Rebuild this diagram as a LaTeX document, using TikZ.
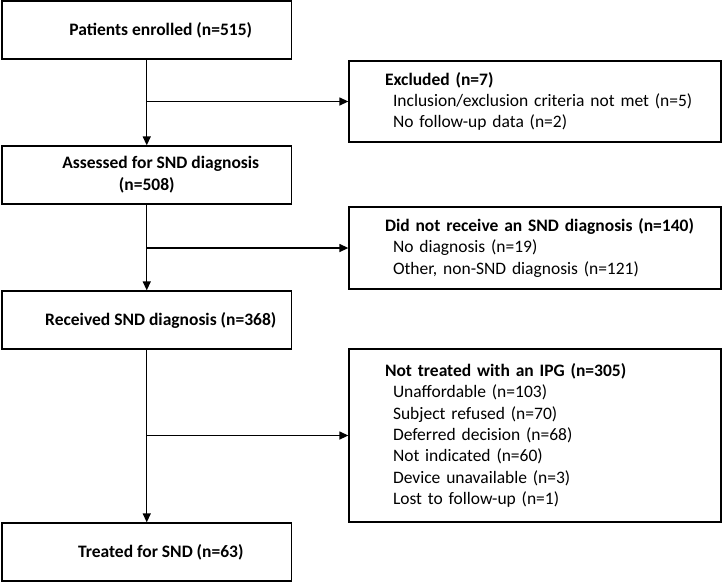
\documentclass[tikz,border=0pt]{standalone}
\usepackage{fontspec}
\setmainfont{Carlito}
\usepackage{tikz}
\usetikzlibrary{arrows.meta}
\tikzset{box/.style={draw,minimum width=289.5pt,minimum height=58pt,inner sep=0pt},
boxtext/.style={xshift=14pt,align=center,font=\fontsize{17.5}{22}\selectfont\bfseries},
sidebox/.style={draw,text width=332pt,inner xsep=20pt,minimum height=#1,align=left,font=\fontsize{17.5}{21.3}\selectfont}}
\newcommand{\sidetitle}[1]{\hspace*{16pt}\textbf{#1}}
\newcommand{\subline}{\\\hspace*{24pt}}

\begin{document}
\begin{tikzpicture}[x=1pt,y=-1pt,line width=1.3pt,>={Triangle[length=9pt,width=8pt]}]
\useasboundingbox (0,0) rectangle (722,582);

\node[box,label={[boxtext]center:{Patients enrolled (n=515)}}] (enrol) at (146.75,30) {};
\node[box,label={[boxtext]center:{Assessed for SND diagnosis\\(n=508)\hspace*{28pt}}}] (assess) at (146.75,175) {};
\node[box,label={[boxtext]center:{Received SND diagnosis (n=368)}}] (recv) at (146.75,320) {};
\node[box,label={[boxtext]center:{Treated for SND (n=63)}}] (treat) at (146.75,552) {};

\node[sidebox=81pt] (excl) at (535,101.5) {\sidetitle{Excluded (n=7)}\subline Inclusion/exclusion criteria not met (n=5)\subline No follow-up data (n=2)};
\node[sidebox=82pt] (nodiag) at (535,248) {\sidetitle{Did not receive an SND diagnosis (n=140)}\subline No diagnosis (n=19)\subline Other, non-SND diagnosis (n=121)};
\node[sidebox=173pt] (noipg) at (535,435.5) {\sidetitle{Not treated with an IPG (n=305)}\subline Unaffordable (n=103)\subline Subject refused (n=70)\subline Deferred decision (n=68)\subline Not indicated (n=60)\subline Device unavailable (n=3)\subline Lost to follow-up (n=1)};

\draw[->] (enrol) -- (assess);
\draw[->] (assess) -- (recv);
\draw[->] (recv) -- (treat);
\draw[->] (enrol.south |- excl.west) -- (excl.west);
\draw[->] (assess.south |- nodiag.west) -- (nodiag.west);
\draw[->] (recv.south |- noipg.west) -- (noipg.west);
\end{tikzpicture}
\end{document}
